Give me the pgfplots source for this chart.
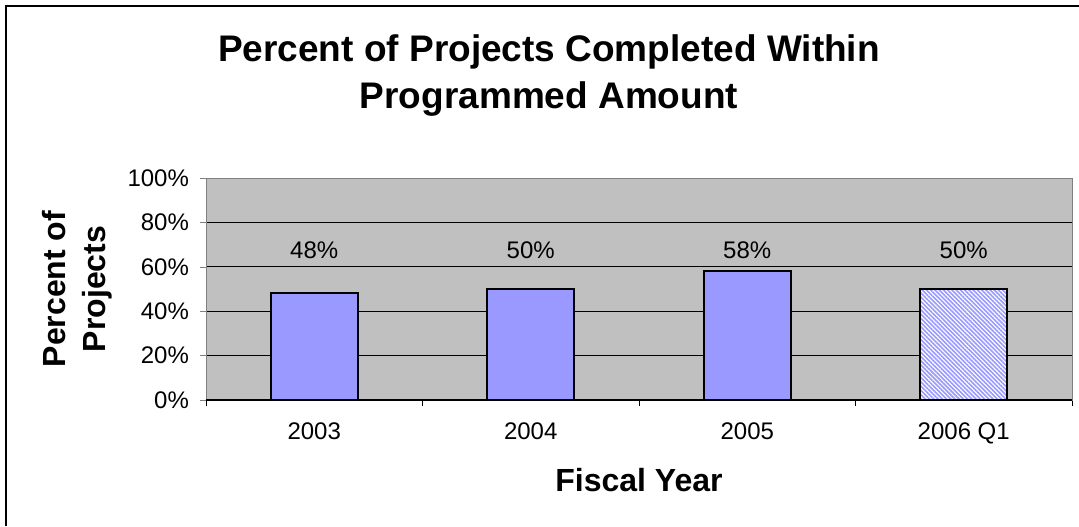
\documentclass[border=0pt]{standalone}
\usepackage{pgfplots}
\pgfplotsset{compat=1.18}
\usetikzlibrary{patterns.meta}
\usepackage{fontspec}
\setmainfont{Liberation Sans}

\definecolor{barblue}{HTML}{9999FF}
\definecolor{plotgray}{HTML}{C0C0C0}

\begin{document}
\begin{tikzpicture}
\useasboundingbox (-103pt,-63pt) rectangle (436.5pt,200pt);
% chart frame (only left and top edges fall inside the picture)
\draw[line width=1pt] (-100pt,-63pt) -- (-100pt,197pt) -- (436.5pt,197pt);

\begin{axis}[
    scale only axis,
    width=433pt, height=111pt,
    at={(0pt,0pt)}, anchor=south west,
    xmin=-0.5, xmax=3.5,
    ymin=0, ymax=100,
    ytick={0,20,...,100},
    yticklabel={\pgfmathprintnumber{\tick}\%},
    xtick={0,1,2,3},
    xticklabels={2003,2004,2005,2006 Q1},
    minor xtick={-0.5,0.5,1.5,2.5,3.5},
    major x tick style={draw=none},
    minor x tick style={draw=black},
    tick align=outside,
    tick pos=left,
    major tick length=3pt,
    minor tick length=3pt,
    ymajorgrids,
    grid style={black, line width=0.5pt},
    axis background/.style={fill=plotgray},
    axis line style={draw=gray},
    /pgf/number format/assume math mode=true,
    tick label style={font=\fontsize{12}{14}\selectfont},
    xticklabel style={yshift=-5pt},
    yticklabel style={xshift=-2pt},
    clip=false,
]
\addplot[ybar, bar width=43.5pt, bar shift=0pt, fill=barblue, draw=black, line width=1pt]
    coordinates {(0,48) (1,50) (2,58)};
\addplot[ybar, bar width=43.5pt, bar shift=0pt, draw=black, line width=1pt, fill=white,
    postaction={pattern={Lines[angle=-45,distance=1.5pt,line width=0.8pt]}, pattern color=barblue}]
    coordinates {(3,50)};
% value labels, all set at the same height as in the reference
\addplot[only marks, mark=none, point meta=explicit,
    nodes near coords={\pgfmathprintnumber{\pgfplotspointmeta}\%},
    every node near coord/.style={anchor=center, font=\fontsize{12}{14}\selectfont}]
    coordinates {(0,67.5) [48] (1,67.5) [50] (2,67.5) [58] (3,67.5) [50]};
\draw[line width=1pt] (axis cs:-0.5,0) -- (axis cs:3.5,0);
\end{axis}

\node[font=\bfseries\fontsize{18.5}{23.5}\selectfont, align=center] at (171.5pt,162pt)
    {Percent of Projects Completed Within\\Programmed Amount};
\node[font=\bfseries\fontsize{16}{20}\selectfont] at (216.5pt,-40pt) {Fiscal Year};
\node[font=\bfseries\fontsize{16}{20}\selectfont, align=center, rotate=90] at (-64.5pt,55.5pt)
    {Percent of\\Projects};
\end{tikzpicture}
\end{document}
